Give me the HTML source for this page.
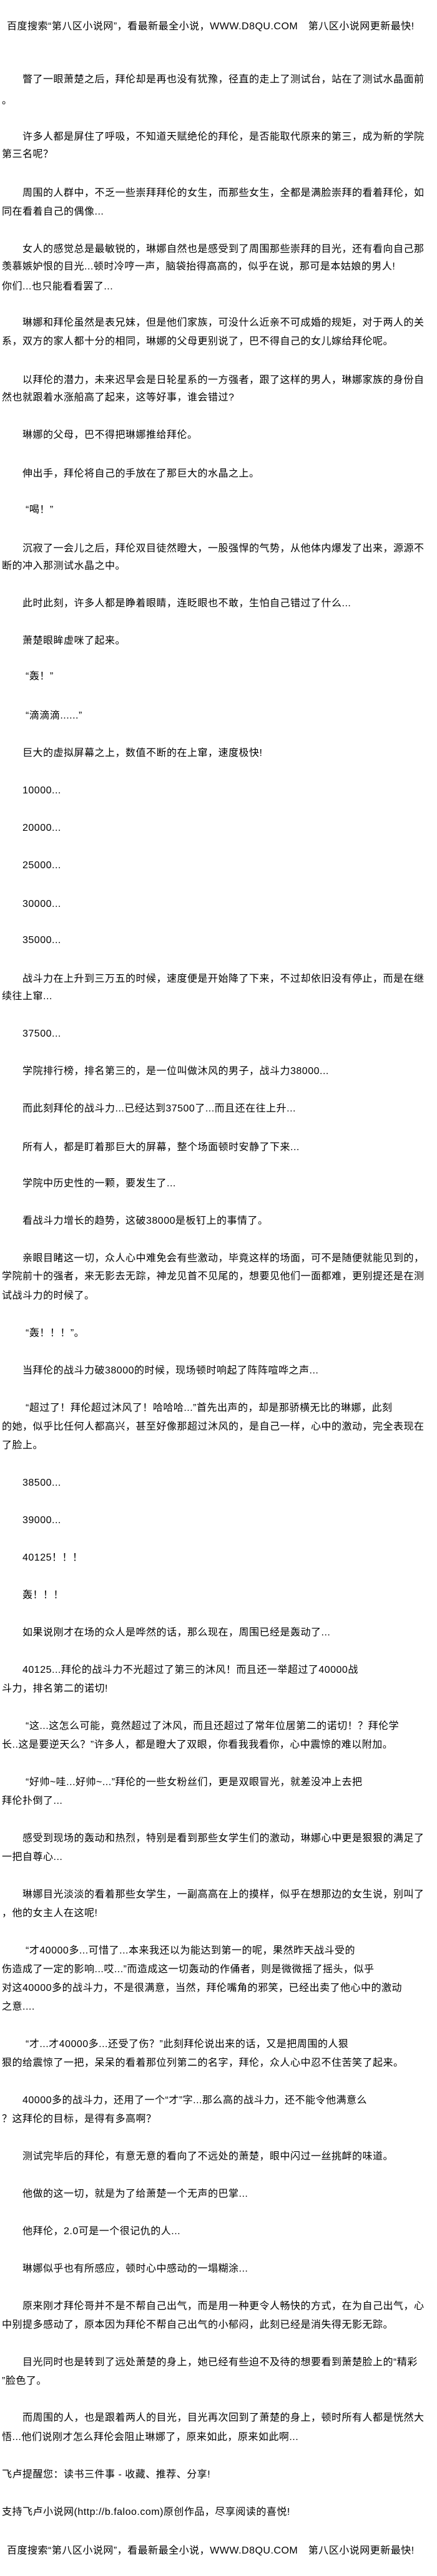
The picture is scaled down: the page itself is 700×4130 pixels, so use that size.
<!DOCTYPE html>
<html><head><meta charset="utf-8">
<style>
html,body{margin:0;padding:0;background:#fff;}
body{width:700px;height:4130px;position:relative;overflow:hidden;
font-family:"Liberation Sans","Noto Sans CJK SC","WenQuanYi Zen Hei",sans-serif;font-size:16px;color:#000;}
div{position:absolute;white-space:nowrap;line-height:18px;letter-spacing:0.5px;}
</style></head><body>
<div style="top:34px;left:11px">百度搜索“第八区小说网”，看最新最全小说，WWW.D8QU.COM　第八区小说网更新最快!</div>

<div style="top:119px;left:36px">瞥了一眼萧楚之后，拜伦却是再也没有犹豫，径直的走上了测试台，站在了测试水晶面前</div>
<div style="top:153px;left:3px">。</div>

<div style="top:211px;left:36px">许多人都是屏住了呼吸，不知道天赋绝伦的拜伦，是否能取代原来的第三，成为新的学院</div>
<div style="top:239px;left:3px">第三名呢？</div>

<div style="top:301px;left:36px">周围的人群中，不乏一些崇拜拜伦的女生，而那些女生，全都是满脸崇拜的看着拜伦，如</div>
<div style="top:331px;left:3px">同在看着自己的偶像...</div>

<div style="top:391px;left:36px">女人的感觉总是最敏锐的，琳娜自然也是感受到了周围那些崇拜的目光，还有看向自己那</div>
<div style="top:419px;left:3px">羡慕嫉妒恨的目光...顿时冷哼一声，脑袋抬得高高的，似乎在说，那可是本姑娘的男人!</div>
<div style="top:451px;left:3px">你们...也只能看看罢了...</div>

<div style="top:509px;left:36px">琳娜和拜伦虽然是表兄妹，但是他们家族，可没什么近亲不可成婚的规矩，对于两人的关</div>
<div style="top:539px;left:3px">系，双方的家人都十分的相同，琳娜的父母更别说了，巴不得自己的女儿嫁给拜伦呢。</div>

<div style="top:601px;left:36px">以拜伦的潜力，未来迟早会是日轮星系的一方强者，跟了这样的男人，琳娜家族的身份自</div>
<div style="top:629px;left:3px">然也就跟着水涨船高了起来，这等好事，谁会错过?</div>

<div style="top:689px;left:36px">琳娜的父母，巴不得把琳娜推给拜伦。</div>
<div style="top:751px;left:36px">伸出手，拜伦将自己的手放在了那巨大的水晶之上。</div>
<div style="top:809px;left:41px">“喝！”</div>

<div style="top:871px;left:36px">沉寂了一会儿之后，拜伦双目徒然瞪大，一股强悍的气势，从他体内爆发了出来，源源不</div>
<div style="top:899px;left:3px">断的冲入那测试水晶之中。</div>

<div style="top:959px;left:36px">此时此刻，许多人都是睁着眼睛，连眨眼也不敢，生怕自己错过了什么...</div>
<div style="top:1019px;left:36px">萧楚眼眸虚咪了起来。</div>
<div style="top:1076px;left:41px">“轰！”</div>
<div style="top:1139px;left:41px">“滴滴滴......”</div>
<div style="top:1199px;left:36px">巨大的虚拟屏幕之上，数值不断的在上窜，速度极快!</div>
<div style="top:1259px;left:36px">10000...</div>
<div style="top:1319px;left:36px">20000...</div>
<div style="top:1379px;left:36px">25000...</div>
<div style="top:1441px;left:36px">30000...</div>
<div style="top:1499px;left:36px">35000...</div>

<div style="top:1561px;left:36px">战斗力在上升到三万五的时候，速度便是开始降了下来，不过却依旧没有停止，而是在继</div>
<div style="top:1589px;left:3px">续往上窜...</div>

<div style="top:1649px;left:36px">37500...</div>
<div style="top:1709px;left:36px">学院排行榜，排名第三的，是一位叫做沐风的男子，战斗力38000...</div>
<div style="top:1769px;left:36px">而此刻拜伦的战斗力...已经达到37500了...而且还在往上升...</div>
<div style="top:1831px;left:36px">所有人，都是盯着那巨大的屏幕，整个场面顿时安静了下来...</div>
<div style="top:1889px;left:36px">学院中历史性的一颗，要发生了...</div>
<div style="top:1949px;left:36px">看战斗力增长的趋势，这破38000是板钉上的事情了。</div>

<div style="top:2009px;left:36px">亲眼目睹这一切，众人心中难免会有些激动，毕竟这样的场面，可不是随便就能见到的，</div>
<div style="top:2038px;left:3px">学院前十的强者，来无影去无踪，神龙见首不见尾的，想要见他们一面都难，更别提还是在测</div>
<div style="top:2069px;left:3px">试战斗力的时候了。</div>

<div style="top:2129px;left:41px">“轰！！！”。</div>
<div style="top:2189px;left:36px">当拜伦的战斗力破38000的时候，现场顿时响起了阵阵喧哗之声...</div>

<div style="top:2249px;left:41px">“超过了！拜伦超过沐风了！哈哈哈...”首先出声的，却是那骄横无比的琳娜，此刻</div>
<div style="top:2279px;left:3px">的她，似乎比任何人都高兴，甚至好像那超过沐风的，是自己一样，心中的激动，完全表现在</div>
<div style="top:2309px;left:3px">了脸上。</div>

<div style="top:2369px;left:36px">38500...</div>
<div style="top:2429px;left:36px">39000...</div>
<div style="top:2489px;left:36px">40125！！！</div>
<div style="top:2549px;left:36px">轰！！！</div>
<div style="top:2609px;left:36px">如果说刚才在场的众人是哗然的话，那么现在，周围已经是轰动了...</div>

<div style="top:2669px;left:36px">40125...拜伦的战斗力不光超过了第三的沐风！而且还一举超过了40000战</div>
<div style="top:2699px;left:3px">斗力，排名第二的诺切!</div>

<div style="top:2759px;left:41px">“这...这怎么可能，竟然超过了沐风，而且还超过了常年位居第二的诺切！？拜伦学</div>
<div style="top:2789px;left:3px">长..这是要逆天么？”许多人，都是瞪大了双眼，你看我我看你，心中震惊的难以附加。</div>

<div style="top:2849px;left:41px">“好帅~哇...好帅~...”拜伦的一些女粉丝们，更是双眼冒光，就差没冲上去把</div>
<div style="top:2879px;left:3px">拜伦扑倒了...</div>

<div style="top:2939px;left:36px">感受到现场的轰动和热烈，特别是看到那些女学生们的激动，琳娜心中更是狠狠的满足了</div>
<div style="top:2969px;left:3px">一把自尊心...</div>

<div style="top:3029px;left:36px">琳娜目光淡淡的看着那些女学生，一副高高在上的摸样，似乎在想那边的女生说，别叫了</div>
<div style="top:3059px;left:3px">，他的女主人在这呢!</div>

<div style="top:3119px;left:41px">“才40000多...可惜了...本来我还以为能达到第一的呢，果然昨天战斗受的</div>
<div style="top:3149px;left:3px">伤造成了一定的影响...哎...”而造成这一切轰动的作俑者，则是微微摇了摇头，似乎</div>
<div style="top:3179px;left:3px">对这40000多的战斗力，不是很满意，当然，拜伦嘴角的邪笑，已经出卖了他心中的激动</div>
<div style="top:3209px;left:3px">之意....</div>

<div style="top:3269px;left:41px">“才...才40000多...还受了伤？”此刻拜伦说出来的话，又是把周围的人狠</div>
<div style="top:3299px;left:3px">狠的给震惊了一把，呆呆的看着那位列第二的名字，拜伦，众人心中忍不住苦笑了起来。</div>

<div style="top:3359px;left:36px">40000多的战斗力，还用了一个“才”字...那么高的战斗力，还不能令他满意么</div>
<div style="top:3389px;left:3px">？这拜伦的目标，是得有多高啊？</div>

<div style="top:3449px;left:36px">测试完毕后的拜伦，有意无意的看向了不远处的萧楚，眼中闪过一丝挑衅的味道。</div>
<div style="top:3509px;left:36px">他做的这一切，就是为了给萧楚一个无声的巴掌...</div>
<div style="top:3569px;left:36px">他拜伦，2.0可是一个很记仇的人...</div>
<div style="top:3629px;left:36px">琳娜似乎也有所感应，顿时心中感动的一塌糊涂...</div>

<div style="top:3689px;left:36px">原来刚才拜伦哥并不是不帮自己出气，而是用一种更令人畅快的方式，在为自己出气，心</div>
<div style="top:3719px;left:3px">中别提多感动了，原本因为拜伦不帮自己出气的小郁闷，此刻已经是消失得无影无踪。</div>

<div style="top:3779px;left:36px">目光同时也是转到了远处萧楚的身上，她已经有些迫不及待的想要看到萧楚脸上的“精彩</div>
<div style="top:3809px;left:3px">”脸色了。</div>

<div style="top:3868px;left:36px">而周围的人，也是跟着两人的目光，目光再次回到了萧楚的身上，顿时所有人都是恍然大</div>
<div style="top:3899px;left:3px">悟...他们说刚才怎么拜伦会阻止琳娜了，原来如此，原来如此啊...</div>

<div style="top:3959px;left:3px">飞卢提醒您：读书三件事 - 收藏、推荐、分享!</div>
<div style="top:4019px;left:3px">支持飞卢小说网(http://b.faloo.com)原创作品，尽享阅读的喜悦!</div>
<div style="top:4081px;left:11px">百度搜索“第八区小说网”，看最新最全小说，WWW.D8QU.COM　第八区小说网更新最快!</div>
</body></html>
